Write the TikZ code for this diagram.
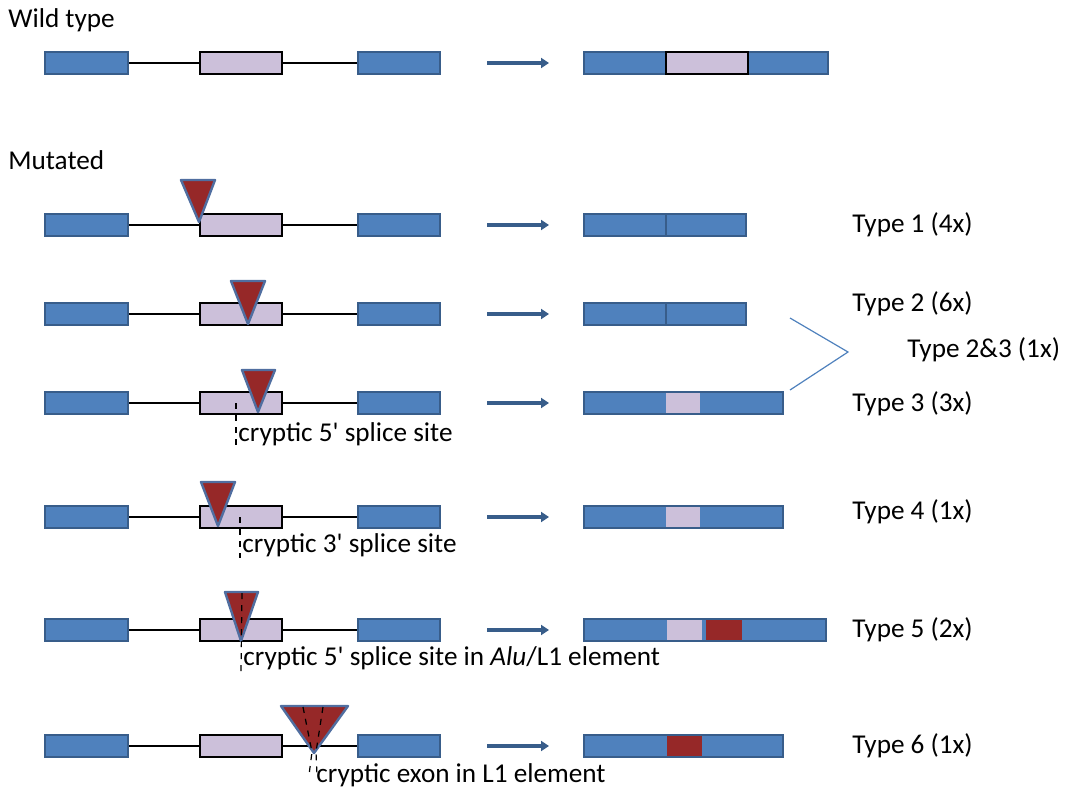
\documentclass[tikz,border=0pt]{standalone}
\usepackage{fontspec}
\setmainfont{Carlito}
\usepackage{textcomp}
\usetikzlibrary{arrows.meta}
\definecolor{exonblue}{RGB}{79,129,189}
\definecolor{exonedge}{RGB}{56,93,138}
\definecolor{lilac}{RGB}{204,192,218}
\definecolor{insred}{RGB}{150,40,40}
\definecolor{insedge}{RGB}{80,110,160}
\tikzset{
  exon/.style={fill=exonblue,draw=exonedge,line width=0.7pt},
  midexon/.style={fill=lilac,draw=black,line width=1.4pt},
  intron/.style={line width=0.8pt},
  ins/.style={fill=insred,draw=insedge,line width=1.2pt,line join=round},
  cut/.style={dashed,line width=0.6pt},
  lbl/.style={font=\fontsize{13.6}{16}\selectfont,inner sep=1pt},
  splice/.style={-{Triangle[length=4pt,width=5pt]},draw=exonedge,line width=1.6pt}
}
% pre-mRNA at row y
\newcommand{\premrna}[1]{
  \draw[intron] (128,#1) -- (200,#1) (282,#1) -- (358,#1);
  \draw[exon] (45,#1-11) rectangle (128,#1+11);
  \draw[exon] (358,#1-11) rectangle (440,#1+11);
  \draw[midexon] (200,#1-11) rectangle (282,#1+11);
  \draw[splice] (487,#1) -- (549,#1);
}
\newcommand{\fp}{\textquotesingle}
\begin{document}
\begin{tikzpicture}[x=0.5pt,y=-0.5pt]
\useasboundingbox (0,0) rectangle (1077,800);
\node[lbl,anchor=west] (wt) at (6,20) {Wild type};
\node[lbl,anchor=west] (mut) at (6,160) {Mutated};

% wild type
\premrna{63}
\draw[exon] (584,52) rectangle (828,74);
\draw[midexon] (666,52) rectangle (748,74);

% mutated rows
\foreach \y in {225,314,403,517,630,746} {\premrna{\y}}

% type 1
\draw[ins] (181,180) -- (215,180) -- (199,222) -- cycle;
\draw[exon] (584,214) rectangle (746,236) (666,214) -- (666,236);
\node[lbl,anchor=west] (t1) at (850,225) {Type 1 (4x)};

% type 2
\draw[ins] (231,281) -- (265,281) -- (248,324) -- cycle;
\draw[exon] (584,303) rectangle (746,325) (666,303) -- (666,325);
\node[lbl,anchor=west] (t2) at (850,304) {Type 2 (6x)};

% type 3
\draw[cut] (236,403) -- (236,446);
\draw[ins] (242,370) -- (275,370) -- (258,412) -- cycle;
\draw[exon] (584,392) rectangle (783,414);
\draw[fill=lilac,draw=none] (666,393) rectangle (700,413);
\node[lbl,anchor=west] (cs3) at (236,434) {cryptic 5\fp{} splice site};
\node[lbl,anchor=west] (t3) at (850,404) {Type 3 (3x)};
\node[lbl,anchor=west] (t23) at (905,350) {Type 2\&3 (1x)};
\draw[exonblue,line width=0.6pt] (790,318) -- (848,352) -- (790,390);

% type 4
\draw[ins] (201,482) -- (235,482) -- (218,526) -- cycle;
\draw[cut] (240,517) -- (240,558);
\draw[exon] (584,506) rectangle (783,528);
\draw[fill=lilac,draw=none] (666,507) rectangle (700,527);
\node[lbl,anchor=west] (cs4) at (240,545) {cryptic 3\fp{} splice site};
\node[lbl,anchor=west] (t4) at (850,512) {Type 4 (1x)};

% type 5
\draw[ins] (225,592) -- (258,592) -- (241,641) -- cycle;
\draw[cut] (242,593) -- (241,672);
\draw[exon] (584,619) rectangle (826,641);
\draw[fill=lilac,draw=none] (667,620) rectangle (702,640);
\draw[fill=insred,draw=none] (706,620) rectangle (742,640);
\node[lbl,anchor=west] (cs5) at (241,658) {cryptic 5\fp{} splice site in \textit{Alu}/L1 element};
\node[lbl,anchor=west] (t5) at (850,630) {Type 5 (2x)};

% type 6
\draw[ins] (281,706) -- (348,706) -- (314,753) -- cycle;
\draw[cut] (303,707) -- (312,752) -- (309,775);
\draw[cut] (323,707) -- (316,752) -- (317,775);
\draw[exon] (584,735) rectangle (783,757);
\draw[fill=insred,draw=none] (667,736) rectangle (702,756);
\node[lbl,anchor=west] (cs6) at (314,775) {cryptic exon in L1 element};
\node[lbl,anchor=west] (t6) at (850,746) {Type 6 (1x)};
\end{tikzpicture}
\end{document}
